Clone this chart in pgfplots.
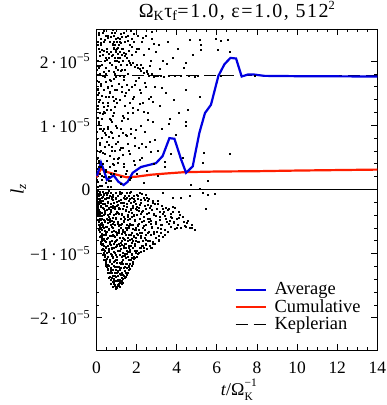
\documentclass[border=0pt]{standalone}
\usepackage{fontspec}
\setmainfont{Liberation Serif}
\usepackage{pgfplots}
\pgfplotsset{compat=1.18}
\definecolor{avgblue}{RGB}{0,0,225}
\definecolor{cumred}{RGB}{255,30,0}
\newcommand{\fs}[1]{\fontsize{#1}{#1}\selectfont}
\newcommand{\cd}{\kern2.5bp·\kern2.5bp}
\begin{document}
\fs{17.5}
\begin{tikzpicture}
\begin{axis}[name=ax, scale only axis, width=281bp, height=321bp,
  xmin=0, xmax=14, ymin=-2.5, ymax=2.5,
  xtick={0,2,...,14}, minor x tick num=3,
  ytick={-2,-1,0,1,2},
  yticklabels={−2\cd10\textsuperscript{−5},−1\cd10\textsuperscript{−5},0,1\cd10\textsuperscript{−5},2\cd10\textsuperscript{−5}},
  minor y tick num=4,
  tick align=inside,
  major tick length=6bp, minor tick length=3bp,
  tick style={black, line width=0.8bp},
  axis line style={line width=0.9bp},
  /pgf/number format/assume math mode=true,
  tick label style={font=\fs{17.5}},
  xticklabel style={yshift=-6bp},
  xlabel={\textit{t}/Ω\rlap{\raisebox{0.5em}{\fs{11.5}−1}}\raisebox{-0.3em}{\fs{11.5}K}},
  xlabel style={at={(axis description cs:0.5,-0.1246)}, anchor=center, font=\fs{18}},
  ylabel={\textit{l}\textsubscript{\textit{z}}},
  ylabel style={at={(axis description cs:-0.2776,0.5)}, anchor=center, font=\fs{19}},
  title={Ω\textsubscript{K}τ\textsubscript{f}=1.0, ε=1.0, 512\raisebox{0.38em}{\fs{12.5}2}},
  title style={at={(axis description cs:0.5,1.0171)}, anchor=base, inner sep=0pt,
    font=\fs{20}\addfontfeature{LetterSpace=8}},
  legend style={at={(rel axis cs:0.48,0.2225)}, anchor=north west, draw=none, fill=none,
    font=\fs{18.5}, row sep=-2bp},
  legend cell align=left,
  legend image code/.code={\draw[#1] (0bp,0bp) -- (30bp,0bp); \path (36bp,0bp);},
]
\addlegendimage{avgblue, line width=2.2bp}
\addlegendentry{Average}
\addlegendimage{cumred, line width=2.2bp}
\addlegendentry{Cumulative}
\addlegendimage{black, line width=1.1bp, dash pattern=on 12bp off 6bp}
\addlegendentry{Keplerian}
% particle cloud, lower part
\addplot[only marks, mark=square*, mark size=0.5bp, mark options={draw=none, fill=black}, forget plot] coordinates {
(0.02,-0.03)(0.03,-0.12)(0.04,-0.2)(0.05,-0.06)(0.06,-0.28)(0.07,-0.15)(0.08,-0.35)(0.09,-0.02)(0.1,-0.22)(0.11,-0.41)(0.12,-0.1)(0.13,-0.31)(0.14,-0.5)(0.15,-0.18)(0.16,-0.58)(0.17,-0.04)(0.18,-0.38)(0.19,-0.65)(0.2,-0.26)(0.2,-0.47)
(0.21,-0.08)(0.22,-0.55)(0.23,-0.72)(0.24,-0.2)(0.25,-0.36)(0.25,-0.8)(0.26,-0.63)(0.27,-0.12)(0.28,-0.45)(0.29,-0.86)(0.3,-0.28)(0.3,-0.7)(0.31,-0.03)(0.32,-0.55)(0.33,-0.92)(0.34,-0.18)(0.35,-0.4)(0.35,-0.78)(0.36,-0.98)(0.37,-0.6)(0.38,-0.08)(0.38,-0.3)(0.39,-0.87)(0.4,-0.5)(0.4,-1.02)
(0.41,-0.15)(0.42,-0.7)(0.43,-0.95)(0.44,-0.35)(0.45,-1.1)(0.45,-0.05)(0.46,-0.58)(0.47,-0.82)(0.48,-0.25)(0.49,-1.15)(0.5,-0.45)(0.5,-0.98)(0.51,-0.12)(0.52,-0.66)(0.53,-1.2)(0.53,-0.32)(0.54,-0.88)(0.55,-0.52)(0.56,-1.05)(0.56,-0.2)(0.57,-1.25)(0.58,-0.75)(0.58,-0.4)(0.59,-0.02)(0.6,-0.92)(0.6,-1.18)(0.44,-0.48)(0.52,-0.08)
(0.61,-0.3)(0.62,-0.62)(0.63,-1.3)(0.64,-0.1)(0.65,-0.85)(0.65,-1.1)(0.66,-0.45)(0.67,-1.36)(0.68,-0.72)(0.69,-0.22)(0.7,-1.0)(0.7,-1.22)(0.71,-0.55)(0.72,-0.05)(0.73,-1.4)(0.73,-0.35)(0.74,-0.9)(0.75,-1.15)(0.76,-0.65)(0.76,-0.15)(0.77,-1.3)(0.78,-0.48)(0.78,-0.8)(0.79,-1.44)(0.8,-1.05)(0.8,-0.28)(0.63,-0.95)(0.68,-0.38)
(0.81,-0.6)(0.82,-1.25)(0.83,-0.08)(0.84,-0.9)(0.85,-1.47)(0.85,-0.4)(0.86,-0.72)(0.87,-1.12)(0.88,-0.2)(0.89,-1.35)(0.9,-0.55)(0.9,-0.98)(0.91,-1.5)(0.92,-0.3)(0.93,-0.82)(0.93,-1.2)(0.94,-0.05)(0.95,-0.65)(0.96,-1.42)(0.96,-1.02)(0.97,-0.45)(0.98,-1.52)(0.98,-0.15)(0.99,-0.88)(1.0,-1.3)(1.0,-0.35)(0.84,-1.4)(0.88,-0.5)
(1.01,-0.7)(1.02,-1.1)(1.03,-0.25)(1.04,-1.48)(1.05,-0.5)(1.06,-0.95)(1.07,-0.1)(1.08,-1.35)(1.09,-0.62)(1.1,-1.2)(1.1,-0.38)(1.11,-0.85)(1.12,-1.5)(1.13,-0.18)(1.14,-1.02)(1.15,-0.55)(1.15,-1.4)(1.16,-0.75)(1.17,-0.03)(1.18,-1.25)(1.19,-0.45)(1.2,-0.92)(1.2,-1.45)(1.06,-1.28)(1.13,-0.68)(1.18,-0.3)
(1.21,-0.6)(1.22,-1.15)(1.23,-0.2)(1.24,-1.42)(1.25,-0.8)(1.26,-0.4)(1.27,-1.3)(1.28,-0.05)(1.29,-0.98)(1.3,-0.65)(1.3,-1.45)(1.31,-0.3)(1.32,-1.1)(1.33,-0.75)(1.34,-0.12)(1.35,-1.35)(1.36,-0.5)(1.37,-0.9)(1.38,-1.22)(1.38,-0.25)(1.39,-0.68)(1.4,-1.38)(1.25,-1.05)(1.35,-0.88)
(1.41,-0.45)(1.42,-1.0)(1.43,-0.15)(1.44,-1.3)(1.45,-0.7)(1.46,-0.32)(1.47,-1.15)(1.48,-0.85)(1.49,-0.05)(1.5,-1.33)(1.5,-0.55)(1.51,-0.95)(1.52,-0.22)(1.53,-1.22)(1.54,-0.6)(1.55,-0.4)(1.56,-1.05)(1.57,-1.3)(1.58,-0.75)(1.59,-0.1)(1.6,-0.9)(1.6,-1.25)
(1.61,-0.35)(1.62,-1.2)(1.63,-0.6)(1.64,-0.05)(1.65,-0.95)(1.66,-1.15)(1.67,-0.45)(1.68,-0.78)(1.69,-0.2)(1.7,-1.1)(1.71,-0.55)(1.72,-0.88)(1.73,-0.3)(1.74,-1.18)(1.75,-0.68)(1.76,-0.12)(1.77,-1.0)(1.78,-0.42)(1.79,-0.8)(1.8,-1.12)
(1.81,-0.25)(1.82,-0.9)(1.83,-0.55)(1.84,-1.08)(1.85,-0.1)(1.86,-0.72)(1.87,-0.4)(1.88,-1.05)(1.89,-0.62)(1.9,-0.85)(1.91,-0.18)(1.92,-1.06)(1.93,-0.48)(1.94,-0.75)(1.95,-0.3)(1.96,-0.98)(1.98,-0.6)(2.0,-0.08)
(2.01,-0.4)(2.02,-0.95)(2.04,-0.7)(2.05,-0.15)(2.06,-1.0)(2.08,-0.55)(2.09,-0.82)(2.1,-0.28)(2.12,-0.98)(2.13,-0.62)(2.15,-0.05)(2.16,-0.45)(2.18,-0.9)(2.19,-0.75)(2.2,-0.2)(2.22,-0.97)(2.24,-0.5)(2.26,-0.68)(2.28,-0.35)(2.3,-0.88)
(2.32,-0.6)(2.34,-0.12)(2.36,-0.9)(2.38,-0.42)(2.4,-0.75)(2.42,-0.25)(2.44,-0.85)(2.46,-0.55)(2.48,-0.08)(2.5,-0.92)(2.52,-0.38)(2.54,-0.68)(2.56,-0.18)(2.58,-0.8)(2.6,-0.5)(2.45,-0.3)
(2.62,-0.15)(2.64,-0.88)(2.67,-0.45)(2.7,-0.7)(2.72,-0.25)(2.75,-0.9)(2.78,-0.58)(2.8,-0.18)(2.83,-0.82)(2.85,-0.38)(2.88,-0.65)(2.9,-0.22)(2.93,-0.85)(2.95,-0.5)(2.98,-0.75)(3.0,-0.3)
(3.04,-0.6)(3.08,-0.22)(3.12,-0.78)(3.16,-0.42)(3.2,-0.68)(3.24,-0.25)(3.28,-0.55)(3.32,-0.74)(3.36,-0.35)(3.4,-0.62)(3.45,-0.28)(3.5,-0.5)
(3.55,-0.65)(3.6,-0.3)(3.66,-0.48)(3.72,-0.58)(3.78,-0.35)(3.85,-0.52)(3.92,-0.28)(3.98,-0.45)
(4.05,-0.55)(4.12,-0.35)(4.2,-0.6)(4.28,-0.42)(4.36,-0.5)(4.45,-0.58)
(4.55,-0.48)(4.66,-0.6)(4.75,-0.55)(4.88,-0.62)
(4.2,-0.12)(5.3,-0.05)(5.55,-0.08)(5.45,-0.3)(3.3,-0.05)(3.8,-0.12)
(0.37,-0.07)(1.52,-0.13)(0.83,-0.11)(2.27,-0.06)(0.14,-0.09)(1.88,-0.14)(1.16,-0.06)(0.62,-0.13)(2.51,-0.12)(1.39,-0.09)(0.04,-0.07)(1.71,-0.04)(0.95,-0.12)(2.05,-0.1)
(0.28,-0.17)(2.83,-0.21)(1.07,-0.24)(0.58,-0.19)(1.95,-0.22)(0.06,-0.23)(2.41,-0.16)(1.33,-0.2)(0.79,-0.25)(3.05,-0.18)(1.61,-0.17)(0.44,-0.22)(2.17,-0.24)(1.23,-0.16)
(0.9,-0.27)(3.57,-0.31)(0.16,-0.34)(2.64,-0.29)(1.47,-0.33)(0.52,-0.26)(3.14,-0.34)(1.83,-0.28)(0.71,-0.32)(2.33,-0.33)(1.13,-0.29)(3.81,-0.27)(0.35,-0.3)(2.02,-0.31)
(1.27,-0.37)(0.61,-0.43)(2.87,-0.39)(0.19,-0.41)(3.68,-0.42)(1.74,-0.36)(0.97,-0.44)(2.23,-0.38)(4.17,-0.4)(0.43,-0.38)(1.58,-0.42)(2.57,-0.45)(3.31,-0.37)(1.04,-0.36)
(0.54,-0.47)(2.11,-0.53)(1.36,-0.49)(3.43,-0.46)(0.82,-0.54)(1.91,-0.47)(4.51,-0.52)(0.26,-0.51)(2.69,-0.49)(1.19,-0.55)(3.87,-0.5)(0.68,-0.5)(1.66,-0.53)(2.94,-0.53)
(0.33,-0.58)(1.49,-0.62)(2.38,-0.57)(0.88,-0.64)(3.22,-0.61)(1.12,-0.57)(4.73,-0.6)(0.6,-0.61)(1.97,-0.63)(2.77,-0.6)(0.21,-0.6)(1.62,-0.56)(3.99,-0.59)(1.31,-0.63)
(0.49,-0.67)(1.86,-0.73)(1.03,-0.69)(2.46,-0.71)(0.27,-0.74)(1.41,-0.66)(3.09,-0.72)(0.74,-0.72)(2.15,-0.67)(1.69,-0.7)(0.92,-0.74)(2.63,-0.66)
(0.39,-0.77)(1.22,-0.83)(2.31,-0.79)(0.66,-0.81)(1.78,-0.76)(2.79,-0.84)(1.01,-0.78)(0.31,-0.84)(1.54,-0.8)(2.06,-0.82)(0.86,-0.85)(1.35,-0.77)
(0.56,-0.87)(1.64,-0.93)(0.97,-0.89)(2.21,-0.91)(0.36,-0.94)(1.28,-0.86)(1.89,-0.88)(0.77,-0.92)(2.48,-0.86)(1.11,-0.95)(0.46,-0.89)(1.47,-0.9)
(0.63,-0.97)(1.39,-1.03)(0.89,-0.99)(1.76,-1.01)(0.42,-1.04)(1.17,-0.96)(1.94,-0.98)(0.74,-1.03)(1.55,-0.97)(1.03,-1.04)
(0.53,-1.08)(1.26,-1.12)(0.81,-1.07)(1.63,-1.1)(1.02,-1.14)(0.67,-1.13)(1.45,-1.06)(1.81,-1.07)(0.94,-1.09)
(0.58,-1.17)(1.14,-1.23)(0.86,-1.19)(1.42,-1.21)(0.69,-1.24)(1.29,-1.16)(1.0,-1.2)(1.6,-1.18)
(0.71,-1.27)(1.19,-1.32)(0.92,-1.29)(1.41,-1.26)(0.79,-1.34)(1.06,-1.27)(1.33,-1.33)
(0.76,-1.37)(1.07,-1.41)(0.88,-1.44)(1.24,-1.38)(0.97,-1.36)(1.16,-1.43)
(0.9,-1.49)(1.02,-1.53)(1.11,-1.47)(0.95,-1.55)(1.06,-1.5)
(0.01,-0.02)(0.02,-0.18)(0.05,-0.38)(0.08,-0.47)(0.11,-0.55)(0.13,-0.63)(0.17,-0.74)(0.22,-0.85)(0.27,-0.93)(0.32,-1.01)(0.38,-1.1)(0.46,-1.19)(0.54,-1.3)(0.62,-1.38)(0.7,-1.46)(0.8,-1.52)(1.18,-1.52)(1.28,-1.46)(1.46,-1.36)(1.66,-1.24)(1.8,-1.16)(2.0,-1.04)(2.35,-0.95)(2.7,-0.9)(3.1,-0.8)(3.4,-0.7)
(0.734,-0.263)(1.417,-0.781)(0.256,-0.412)(2.113,-0.337)(0.912,-1.108)(1.683,-0.962)(0.145,-0.071)(1.255,-0.527)(0.487,-0.903)(2.407,-0.619)(1.028,-0.193)(0.621,-1.187)(1.872,-0.413)(0.338,-0.228)(1.139,-1.312)(2.712,-0.528)(0.818,-0.698)(1.534,-0.268)(0.072,-0.312)(1.966,-0.793)
(0.563,-0.047)(1.302,-1.027)(0.949,-0.377)(2.231,-0.724)(0.417,-0.643)(1.761,-1.063)(0.691,-0.858)(1.092,-0.647)(2.539,-0.244)(0.213,-0.531)(1.447,-0.589)(0.858,-1.382)(2.061,-0.561)(0.309,-0.109)(1.598,-0.697)(0.753,-0.118)(1.184,-0.871)(2.866,-0.691)(0.534,-0.763)(1.349,-0.212)
(0.977,-0.792)(1.714,-0.317)(0.396,-0.801)(2.342,-0.483)(0.664,-0.373)(1.236,-1.224)(0.128,-0.187)(1.903,-0.953)(0.821,-0.436)(1.521,-1.157)(2.637,-0.803)(0.457,-0.151)(1.053,-1.417)(0.288,-0.692)(1.817,-0.609)(0.588,-1.053)(1.375,-0.416)(2.189,-0.161)(0.706,-1.289)(1.133,-0.299)
(0.883,-0.962)(1.653,-0.146)(0.351,-0.472)(2.454,-0.778)(0.947,-1.245)(1.286,-0.688)(0.169,-0.603)(1.991,-0.274)(0.772,-0.574)(1.488,-0.994)(2.954,-0.412)(0.623,-0.289)(1.214,-0.071)(0.445,-1.129)(1.574,-0.474)(0.836,-0.157)(1.079,-0.527)(2.283,-0.883)(0.527,-0.587)(1.741,-0.836)
(0.998,-0.671)(3.187,-0.543)(0.233,-0.811)(1.393,-0.843)(0.678,-0.488)(2.004,-0.689)(1.162,-1.146)(0.409,-0.326)(1.846,-0.192)(0.892,-0.271)(2.592,-0.366)(0.583,-1.241)(1.316,-1.393)(0.186,-0.369)(1.618,-0.872)(0.741,-1.012)(1.021,-0.861)(2.767,-0.311)(0.474,-0.711)(1.458,-0.151)
(0.051,-0.143)(0.097,-0.356)(0.043,-0.261)(0.118,-0.229)(0.162,-0.452)(0.067,-0.089)(0.204,-0.617)(0.083,-0.402)(0.139,-0.321)(0.241,-0.538)(0.028,-0.074)(0.178,-0.141)(0.264,-0.771)(0.109,-0.481)(0.193,-0.263)
(3.412,-0.401)(3.753,-0.441)(3.018,-0.663)(3.596,-0.529)(4.091,-0.447)(3.281,-0.298)(4.384,-0.561)(3.907,-0.605)(3.139,-0.467)(3.698,-0.382)
};
% particle cloud, upper part
\addplot[only marks, mark=square*, mark size=0.5bp, mark options={draw=none, fill=black}, forget plot] coordinates {
(0.02,0.15)(0.03,0.9)(0.04,1.7)(0.05,2.3)(0.06,0.5)(0.07,1.3)(0.08,2.0)(0.09,0.05)(0.1,1.05)(0.11,1.9)(0.12,0.35)(0.13,2.45)(0.14,1.5)(0.15,0.7)(0.16,2.15)(0.17,1.2)(0.18,0.25)(0.19,1.8)(0.2,0.95)(0.2,2.35)(0.03,0.6)(0.06,1.55)(0.1,2.2)(0.14,0.45)(0.18,1.4)
(0.21,0.6)(0.22,1.65)(0.24,2.25)(0.25,0.15)(0.26,1.1)(0.28,1.95)(0.29,0.8)(0.3,2.45)(0.31,1.35)(0.33,0.4)(0.34,2.1)(0.35,1.55)(0.36,0.95)(0.38,2.3)(0.39,0.2)(0.4,1.75)(0.41,1.2)(0.42,2.0)(0.44,0.55)(0.45,1.45)(0.46,2.4)(0.47,0.1)(0.48,0.85)(0.49,1.9)(0.5,1.25)
(0.51,2.2)(0.52,0.45)(0.54,1.6)(0.55,0.95)(0.56,2.4)(0.57,1.3)(0.59,0.2)(0.6,1.85)(0.61,0.7)(0.62,2.05)(0.64,1.1)(0.65,2.3)(0.66,0.35)(0.67,1.5)(0.69,0.9)(0.7,2.15)(0.71,1.7)(0.72,0.05)(0.73,1.25)(0.75,2.45)(0.76,0.6)(0.77,1.95)(0.78,1.05)(0.79,2.25)(0.8,0.4)
(0.81,1.45)(0.82,2.1)(0.83,0.8)(0.84,2.3)(0.85,2.2)(0.86,1.2)(0.87,0.25)(0.88,2.4)(0.89,1.8)(0.9,2.05)(0.91,0.6)(0.92,2.25)(0.93,1.55)(0.94,2.15)(0.95,1.0)(0.96,2.35)(0.97,0.3)(0.98,1.9)(0.99,2.2)(1.0,1.35)(1.01,2.0)(1.03,2.3)(1.05,0.75)(1.07,2.12)(1.09,1.65)
(1.11,2.25)(1.12,0.5)(1.14,2.05)(1.15,1.4)(1.16,2.35)(1.18,2.15)(1.19,0.95)(1.2,1.85)(1.22,2.28)(1.23,0.2)(1.25,2.1)(1.26,1.6)(1.28,2.38)(1.29,1.15)(1.3,2.0)(1.32,0.65)(1.33,2.2)(1.35,1.75)(1.36,2.45)(1.37,0.4)(1.39,1.3)(1.4,2.08)
(1.42,2.3)(1.44,0.85)(1.46,2.12)(1.48,1.5)(1.5,0.3)(1.52,2.05)(1.54,1.1)(1.56,2.4)(1.58,1.8)(1.6,0.6)(1.62,2.0)(1.64,1.35)(1.66,2.25)(1.68,0.15)(1.7,1.95)(1.72,0.95)(1.74,2.1)(1.76,1.6)(1.78,2.35)(1.8,1.2)
(1.82,1.98)(1.84,0.45)(1.86,2.3)(1.88,1.45)(1.9,1.92)(1.92,0.8)(1.95,2.15)(1.97,1.7)(2.0,1.95)(2.02,0.25)(2.04,2.4)(2.06,1.25)(2.08,1.9)(2.1,0.65)(2.13,2.2)(2.15,1.55)(2.18,1.88)(2.2,1.0)
(2.23,1.85)(2.26,2.3)(2.28,0.5)(2.3,1.9)(2.33,1.35)(2.36,2.1)(2.38,1.82)(2.41,0.9)(2.44,1.6)(2.46,2.4)(2.49,1.85)(2.52,0.3)(2.54,1.2)(2.57,1.8)(2.6,2.2)
(2.63,1.78)(2.66,0.75)(2.69,2.0)(2.72,1.45)(2.75,1.8)(2.78,2.35)(2.81,1.05)(2.84,1.76)(2.87,0.4)(2.9,1.6)(2.94,1.77)(2.98,2.15)
(3.04,1.78)(3.08,0.6)(3.13,2.25)(3.18,1.3)(3.22,1.77)(3.27,0.95)(3.32,2.0)(3.37,1.76)(3.42,0.35)(3.47,1.5)
(3.55,2.3)(3.6,1.78)(3.66,1.1)(3.72,0.55)(3.78,2.05)(3.84,1.4)(3.9,1.77)(3.96,0.85)
(4.05,2.2)(4.12,1.2)(4.2,1.77)(4.28,0.5)(4.36,1.9)(4.45,1.0)
(4.53,1.25)(4.62,1.77)(4.71,0.08)(4.8,2.1)(4.92,1.76)
(4.63,2.34)(5.13,2.33)(5.2,2.26)(5.2,2.18)(5.96,2.35)(6.18,2.31)(6.53,2.34)(6.04,2.17)(6.63,2.15)(4.46,1.97)(4.46,1.56)(5.13,1.44)(4.46,1.06)(5.35,0.58)(6.63,0.55)(5.3,0.42)(5.55,0.14)(5.13,0.01)(4.63,-0.09)(5.88,-0.07)(5.05,1.77)(6.2,1.77)(7.9,1.77)
(0.07,0.12)(0.48,0.27)(1.21,0.09)(0.26,0.21)(1.73,0.18)(0.69,0.14)(2.36,0.11)(0.93,0.29)(1.44,0.24)(0.15,0.06)(3.05,0.22)(0.57,0.04)
(0.11,0.42)(0.64,0.53)(1.36,0.36)(0.33,0.58)(2.14,0.47)(0.86,0.39)(1.67,0.55)(0.04,0.33)(2.71,0.59)(1.08,0.48)(0.45,0.31)(3.4,0.44)
(0.19,0.73)(0.78,0.66)(1.52,0.84)(0.41,0.88)(2.28,0.71)(1.14,0.62)(0.02,0.79)(1.89,0.68)(0.63,0.82)(2.93,0.77)(1.31,0.89)
(0.08,1.12)(0.55,0.98)(1.24,1.07)(0.31,1.18)(1.98,0.93)(0.83,1.15)(2.58,1.09)(1.57,1.19)(0.17,0.94)(3.61,1.02)(1.03,0.96)
(0.13,1.37)(0.72,1.24)(1.43,1.46)(0.38,1.29)(2.17,1.33)(0.96,1.41)(1.81,1.27)(0.05,1.48)(2.79,1.36)(0.59,1.44)
(0.24,1.61)(0.87,1.73)(1.61,1.56)(0.46,1.68)(2.42,1.66)(1.16,1.78)(0.09,1.57)(1.93,1.63)(0.68,1.52)(3.25,1.59)(1.37,1.71)
(0.16,1.93)(0.74,2.08)(1.27,1.87)(0.37,1.84)(1.67,1.97)(0.97,1.92)(2.21,1.95)(0.53,2.02)(1.13,1.99)(0.01,1.86)(1.49,1.94)(0.86,1.83)(1.04,2.06)(2.5,1.83)
(0.27,2.18)(0.82,2.27)(1.19,2.42)(0.44,2.33)(1.34,2.13)(0.93,2.44)(0.07,2.26)(1.58,2.31)(0.61,2.12)(1.08,2.36)(1.88,2.42)(0.98,2.17)(1.24,2.2)(0.36,2.47)(2.31,2.37)(2.74,2.46)(1.75,2.22)
(0.053,1.923)(0.412,0.673)(0.776,1.612)(0.189,2.083)(1.123,0.832)(0.587,2.371)(0.934,1.284)(0.268,1.467)(1.412,1.862)(0.694,0.252)(0.121,1.027)(1.051,2.213)(0.463,1.806)(0.857,0.478)(1.268,1.531)(0.323,0.917)(0.645,1.974)(1.556,0.712)(0.092,2.412)(0.973,1.753)
(0.377,2.163)(0.726,1.091)(1.187,2.301)(0.212,0.357)(0.558,1.352)(1.334,0.537)(0.814,2.491)(0.042,1.261)(1.615,2.164)(0.498,0.746)(0.905,2.012)(0.297,1.768)(1.076,0.412)(0.661,1.717)(1.452,2.387)(0.158,0.583)(0.839,1.378)(1.233,1.943)(0.532,2.142)(1.786,1.412)
(0.024,0.483)(0.351,1.216)(0.617,0.137)(1.001,1.547)(0.223,2.286)(0.749,0.879)(1.365,1.117)(0.442,2.057)(1.197,0.658)(0.101,1.682)(0.862,2.214)(1.694,0.874)(0.571,1.583)(0.281,0.061)(1.042,1.872)(2.118,1.734)(0.956,0.712)(1.512,1.638)(0.714,2.382)(2.352,1.217)
(2.024,2.187)(2.662,1.932)(1.934,0.392)(2.481,0.673)(3.147,1.887)(2.213,1.512)(2.851,2.267)(3.498,1.962)(1.724,2.471)(2.593,1.417)
};
% zero line
\addplot[black, line width=0.8bp, forget plot] coordinates {(0,0)(14,0)};
% Keplerian
\addplot[black, line width=1.1bp, dash pattern=on 12bp off 6bp, forget plot] coordinates {(0,1.773)(14,1.773)};
% Cumulative
\addplot[cumred, line width=2.2bp, forget plot] coordinates {
(0.0,0.19)(0.25,0.33)(0.45,0.28)(0.9,0.24)(1.5,0.19)(2.0,0.2)(2.72,0.23)(3.5,0.25)(4.38,0.27)(6,0.28)(8,0.285)(10,0.295)(14,0.31)};
% Average
\addplot[avgblue, line width=2.2bp, forget plot] coordinates {
(0.03,0.21)(0.23,0.42)(0.36,0.31)(0.53,0.15)(0.86,0.22)(1.1,0.12)(1.36,0.07)(1.56,0.12)(1.81,0.26)(2.22,0.35)(2.97,0.41)(3.30,0.52)(3.64,0.80)(3.89,0.79)(4.22,0.47)(4.47,0.26)(4.80,0.36)(5.13,0.88)(5.41,1.19)(5.71,1.32)(6.08,1.77)(6.38,1.95)(6.68,2.05)(6.96,2.04)(7.24,1.76)(7.54,1.79)(7.87,1.79)(8.37,1.77)(10,1.765)(14,1.76)};
\end{axis}
\pgfresetboundingbox
\path ([shift={(-92bp,-55bp)}]ax.south west) rectangle ([shift={(9bp,29bp)}]ax.north east);
\end{tikzpicture}
\end{document}
